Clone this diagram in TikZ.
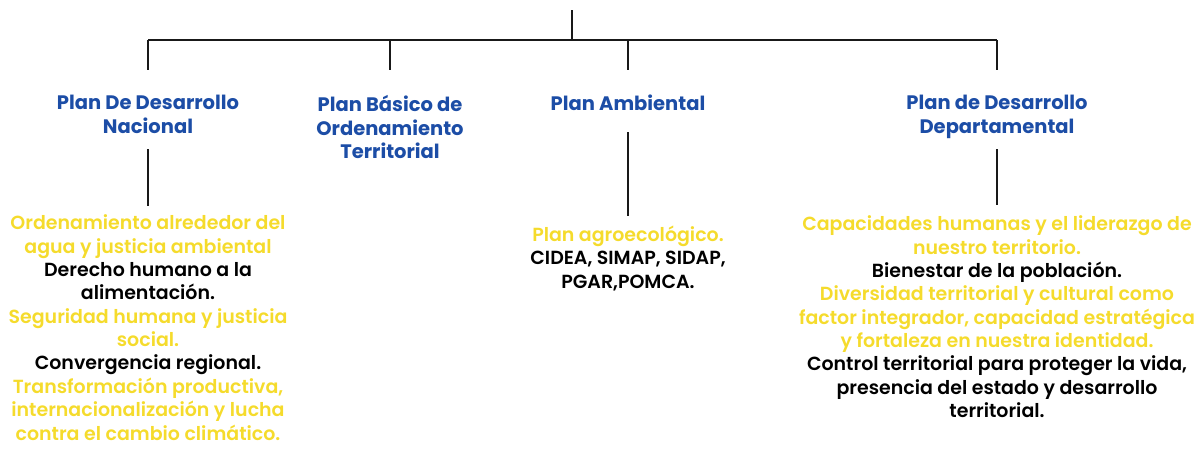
\documentclass[tikz,border=0pt]{standalone}
\usepackage{fontspec}
\setmainfont{Poppins}[UprightFont={* SemiBold}, BoldFont={* Bold}]
\usetikzlibrary{positioning}
\definecolor{planblue}{HTML}{1C4DA6}
\definecolor{planyellow}{HTML}{F5DB2C}
\newcommand{\yl}[1]{{\color{planyellow}#1}}
\newcommand{\bk}[1]{{\color{black}#1}}

\begin{document}
\begin{tikzpicture}[
x=0.02cm, y=-0.02cm,
every node/.style={align=center, inner sep=0pt},
title/.style={font=\fontsize{11.1}{13.5}\selectfont\bfseries, text=planblue, anchor=north},
item/.style={font=\fontsize{10.8}{13.3}\selectfont, anchor=north},
link/.style={line width=1.4pt, black!90}
]
\useasboundingbox (0,0) rectangle (1196,463);

\coordinate (root) at (572,10);
\coordinate (hub) at (572,40);
\coordinate (left) at (148,40);
\coordinate (right) at (997,40);

\node[title] (nac) at (148,95) {Plan De Desarrollo\\ Nacional};
\node[title] (pbot) at (390,95) {Plan Básico de\\ Ordenamiento\\ Territorial};
\node[title] (amb) at (628,95) {Plan Ambiental};
\node[title] (dep) at (997,95) {Plan de Desarrollo\\ Departamental};

\node[item] (nacbody) at (148,214.5) {\yl{Ordenamiento alrededor del}\\ \yl{agua y justicia ambiental}\\
  \bk{Derecho humano a la}\\ \bk{alimentación.}\\ \yl{Seguridad humana y justicia}\\ \yl{social.}\\
  \bk{Convergencia regional.}\\ \yl{Transformación productiva,}\\ \yl{internacionalización y lucha}\\
  \yl{contra el cambio climático.}};
\node[item] (ambbody) at (628,225.5) {\yl{Plan agroecológico.}\\ \bk{CIDEA, SIMAP, SIDAP,}\\ \bk{PGAR,POMCA.}};
\node[item] (depbody) at (997,215.5) {\yl{Capacidades humanas y el liderazgo de}\\ \yl{nuestro territorio.}\\
  \bk{Bienestar de la población.}\\ \yl{Diversidad territorial y cultural como}\\
  \yl{factor integrador, capacidad estratégica}\\ \yl{y fortaleza en nuestra identidad.}\\
  \bk{Control territorial para proteger la vida,}\\ \bk{presencia del estado y desarrollo}\\ \bk{territorial.}};

% tree
\draw[link] (root) -- (hub);
\draw[link] (left) -- (right);
\foreach \n in {nac,pbot,amb,dep}
  \draw[link] (\n.north |- left) -- ++(0,30);

\draw[link, shorten <=0.3cm, shorten >=0.18cm] (nac) -- (nacbody);
\draw[link, shorten <=0.42cm, shorten >=0.2cm] (amb) -- (ambbody);
\draw[link, shorten <=0.2cm, shorten >=0.22cm] (dep) -- (depbody);

\end{tikzpicture}
\end{document}
